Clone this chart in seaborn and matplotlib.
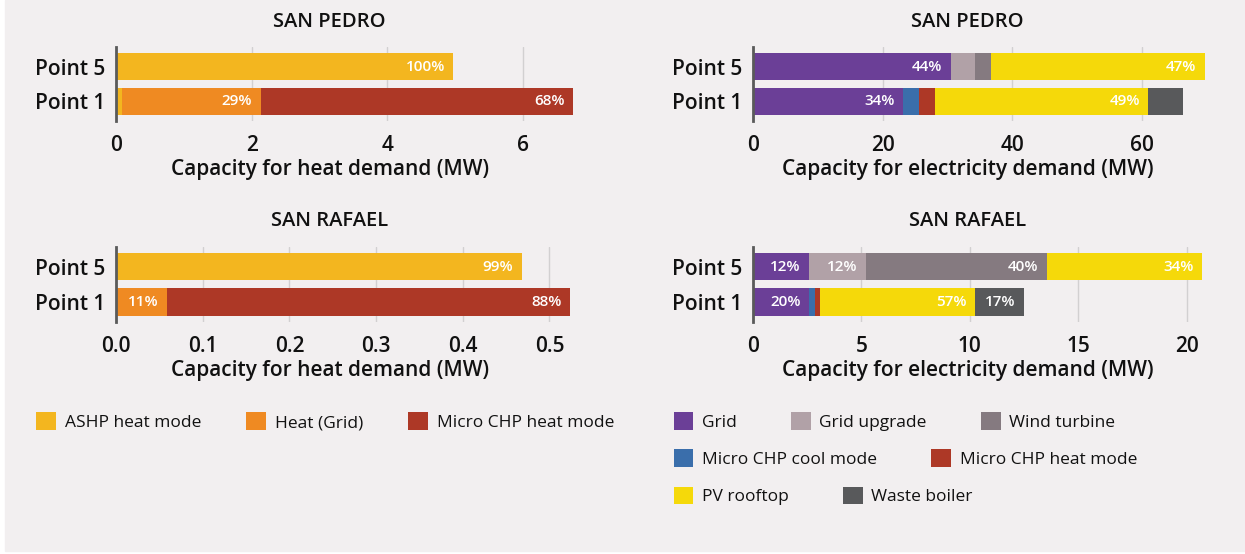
import matplotlib
matplotlib.use("Agg")
import matplotlib.pyplot as plt
from matplotlib.patches import Patch, Rectangle
from matplotlib.ticker import MultipleLocator
import numpy as np
import pandas as pd
import seaborn as sns

# ---- data ----
points = ["Point 5", "Point 1"]

heat_series = ["ASHP heat mode", "Heat (Grid)", "Micro CHP heat mode"]
heat_colors = ["#f3b61f", "#ef8a22", "#ad3826"]

elec_series = ["Grid", "Grid upgrade", "Wind turbine", "Micro CHP cool mode",
               "Micro CHP heat mode", "PV rooftop", "Waste boiler"]
elec_colors = ["#6b3f97", "#b1a1a7", "#857a80", "#3a6eab",
               "#ad3826", "#f5d90a", "#58595b"]

# series-major: one list per series, values for [Point 5, Point 1]
sp_heat = [[4.97, 0.09], [0.0, 2.04], [0.0, 4.61]]
sp_heat_labels = [["100%", ""], ["", "29%"], ["", "68%"]]

sr_heat = [[0.468, 0.0], [0.0, 0.059], [0.0, 0.465]]
sr_heat_labels = [["99%", ""], ["", "11%"], ["", "88%"]]

sp_elec = [[30.5, 23.1], [3.7, 0.0], [2.5, 0.0], [0.0, 2.5],
           [0.0, 2.5], [33.0, 32.9], [0.0, 5.3]]
sp_elec_labels = [["44%", "34%"], ["", ""], ["", ""], ["", ""],
                  ["", ""], ["47%", "49%"], ["", ""]]

sr_elec = [[2.58, 2.58], [2.64, 0.0], [8.34, 0.0], [0.0, 0.27],
           [0.0, 0.25], [7.15, 7.13], [0.0, 2.26]]
sr_elec_labels = [["12%", "20%"], ["12%", ""], ["40%", ""], ["", ""],
                  ["", ""], ["34%", "57%"], ["", "17%"]]

BG = "#f2eff0"
INK = "#111111"
FONT = ["Open Sans", "DejaVu Sans"]

sns.set_theme(style="whitegrid")
plt.rcParams["font.family"] = FONT
plt.rcParams["axes.facecolor"] = BG
plt.rcParams["figure.facecolor"] = "white"
plt.rcParams["text.color"] = INK


def stacked_panel(ax, values, labels, colors, title, xlabel, step, xmax, cx, ly):
    vals = np.array(values)
    cum = vals.cumsum(axis=0)
    # seaborn has no stacking, so overlay cumulative totals from the outside in
    for i in range(len(vals) - 1, -1, -1):
        df = pd.DataFrame({"point": points, "value": cum[i]})
        sns.barplot(data=df, x="value", y="point", orient="h", color=colors[i],
                    saturation=1, width=0.77, errorbar=None, ax=ax, zorder=2,
                    linewidth=0, edgecolor="none")
    for i in range(len(vals)):
        for j, lab in enumerate(labels[i]):
            if lab:
                ax.annotate(lab, (cum[i][j], j), xytext=(-6, 0),
                            textcoords="offset points", ha="right", va="center",
                            color="white", fontsize=11, fontweight="semibold")
    ax.set_xlim(0, xmax)
    ax.set_ylim(1.56, -0.56)
    ax.xaxis.set_major_locator(MultipleLocator(step))
    ax.grid(axis="x", color="#d2d0d1", linewidth=1)
    ax.grid(axis="y", visible=False)
    ax.set_axisbelow(True)
    for s in ["top", "right", "bottom"]:
        ax.spines[s].set_visible(False)
    ax.spines["left"].set_color("#5a5a5a")
    ax.spines["left"].set_linewidth(2)
    ax.spines["left"].set_zorder(5)
    ax.tick_params(axis="both", length=0, labelsize=15, colors=INK)
    ax.tick_params(axis="x", pad=10)
    ax.tick_params(axis="y", pad=8)
    for t in ax.get_xticklabels() + ax.get_yticklabels():
        t.set_fontweight("semibold")
    ax.set_ylabel("")
    ax.set_xlabel(xlabel, fontsize=15, color=INK, fontweight="semibold")
    ax.xaxis.set_label_coords(cx, ly)
    ax.xaxis.label.set_va("center")
    ax.text(cx, 1.34, title, transform=ax.transAxes, ha="center",
            va="center", fontsize=14.5, fontweight="semibold")


fig = plt.figure(figsize=(12.45, 5.54), dpi=100)
fig.patches.append(Rectangle((5 / 1245, 1 - 551 / 554), 1, 551 / 554,
                             transform=fig.transFigure, color=BG, zorder=-10))

ax_sp_h = fig.add_axes([0.0932, 0.7816, 0.3815, 0.1336])
ax_sr_h = fig.add_axes([0.0932, 0.4193, 0.3815, 0.1354])
ax_sp_e = fig.add_axes([0.6048, 0.7816, 0.3687, 0.1336])
ax_sr_e = fig.add_axes([0.6048, 0.4193, 0.3687, 0.1354])

stacked_panel(ax_sp_h, sp_heat, sp_heat_labels, heat_colors, "SAN PEDRO",
              "Capacity for heat demand (MW)", 2, 7.0, 0.45, -0.66)
stacked_panel(ax_sr_h, sr_heat, sr_heat_labels, heat_colors, "SAN RAFAEL",
              "Capacity for heat demand (MW)", 0.1, 0.548, 0.45, -0.645)
stacked_panel(ax_sp_e, sp_elec, sp_elec_labels, elec_colors, "SAN PEDRO",
              "Capacity for electricity demand (MW)", 20, 70.8, 0.468, -0.66)
stacked_panel(ax_sr_e, sr_elec, sr_elec_labels, elec_colors, "SAN RAFAEL",
              "Capacity for electricity demand (MW)", 5, 21.17, 0.468, -0.645)

leg_kw = dict(frameon=False, fontsize=12.5, handlelength=1.15, handleheight=1.2,
              handletextpad=0.5, borderpad=0, borderaxespad=0, loc="center left",
              labelcolor=INK)


def legend_row(names, colors, x_px, y_px, spacing):
    handles = [Patch(facecolor=c, edgecolor="none") for c in colors]
    fig.legend(handles, names, ncol=len(names), columnspacing=spacing,
               bbox_to_anchor=(x_px / 1245, 1 - y_px / 554), **leg_kw)


legend_row(heat_series, heat_colors, 36, 421.7, 2.6)
legend_row(elec_series[:3], elec_colors[:3], 673.5, 421.7, 3.1)
legend_row(elec_series[3:5], elec_colors[3:5], 673.5, 458.3, 3.1)
legend_row(elec_series[5:], elec_colors[5:], 673.5, 496, 3.1)

fig.savefig("out.png", dpi=100, facecolor="white")
